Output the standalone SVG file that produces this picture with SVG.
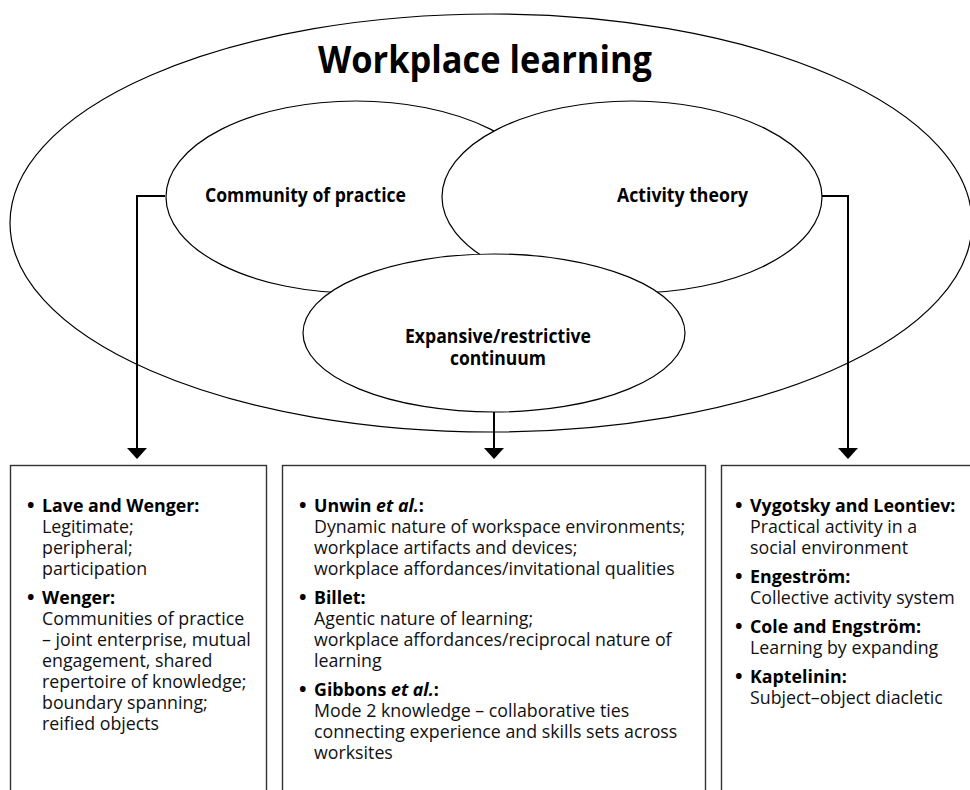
<svg xmlns="http://www.w3.org/2000/svg" width="970" height="790" viewBox="0 0 970 790">
  <style>
    .ell { fill: #fff; stroke: #000; stroke-width: 1.2; }
    .box { fill: #fff; stroke: #333; stroke-width: 1.4; }
    .conn { fill: none; stroke: #000; stroke-width: 2; }
    .title { font-family: "Open Sans", "Liberation Sans", sans-serif; font-weight: 700; font-size: 38px; fill: #000; }
    .lbl { font-family: "Open Sans", "Liberation Sans", sans-serif; font-weight: 700; font-size: 19px; fill: #000; }
    .txt { font-family: "Open Sans", "Liberation Sans", sans-serif; font-size: 17.8px; fill: #111; }
    .b { font-weight: 700; fill: #000; }
    .bi { font-weight: 700; font-style: italic; }
    .dot { font-weight: 700; font-size: 20px; fill: #000; }
  </style>
  <defs>
    <marker id="arrow" markerUnits="userSpaceOnUse" markerWidth="12" markerHeight="20" refX="0" refY="9" orient="auto" viewBox="0 0 10 18">
      <path d="M0,0 L10,9 L0,18 z" fill="#000"/>
    </marker>
  </defs>
  <rect width="970" height="790" fill="#fff"/>

  <g id="workplace-learning">
    <ellipse class="ell" cx="491" cy="223" rx="481" ry="209"/>
    <text class="title" x="318" y="73" textLength="334" lengthAdjust="spacingAndGlyphs">Workplace learning</text>
  </g>

  <g id="community-of-practice">
    <ellipse class="ell" cx="356" cy="197" rx="190" ry="96"/>
    <text class="lbl" x="205" y="202" textLength="201" lengthAdjust="spacingAndGlyphs">Community of practice</text>
  </g>

  <g id="activity-theory">
    <ellipse class="ell" cx="632" cy="197" rx="190" ry="96"/>
    <text class="lbl" x="617" y="202" textLength="131" lengthAdjust="spacingAndGlyphs">Activity theory</text>
  </g>

  <g id="expansive-restrictive">
    <ellipse class="ell" cx="494" cy="333" rx="191" ry="79"/>
    <text class="lbl" x="405" y="343" textLength="186" lengthAdjust="spacingAndGlyphs">Expansive/restrictive</text>
    <text class="lbl" x="450" y="365" textLength="96" lengthAdjust="spacingAndGlyphs">continuum</text>
  </g>

  <g id="connectors">
    <path class="conn" d="M165,196 H137 V448" marker-end="url(#arrow)"/>
    <path class="conn" d="M494,412 V448" marker-end="url(#arrow)"/>
    <path class="conn" d="M822,196 H848 V448" marker-end="url(#arrow)"/>
  </g>

  <g id="box-community">
    <rect class="box" x="10.5" y="465.5" width="256" height="340"/>
    <text class="txt">
      <tspan class="dot" x="27" y="512">•</tspan><tspan class="b" x="42" y="512">Lave and Wenger:</tspan>
      <tspan x="42" y="533">Legitimate;</tspan>
      <tspan x="42" y="554">peripheral;</tspan>
      <tspan x="42" y="575">participation</tspan>
      <tspan class="dot" x="27" y="604">•</tspan><tspan class="b" x="42" y="604">Wenger:</tspan>
      <tspan x="42" y="625">Communities of practice</tspan>
      <tspan x="42" y="646">– joint enterprise, mutual</tspan>
      <tspan x="42" y="667">engagement, shared</tspan>
      <tspan x="42" y="688">repertoire of knowledge;</tspan>
      <tspan x="42" y="709">boundary spanning;</tspan>
      <tspan x="42" y="730">reified objects</tspan>
    </text>
  </g>

  <g id="box-expansive">
    <rect class="box" x="282.5" y="465.5" width="423" height="340"/>
    <text class="txt">
      <tspan class="dot" x="299" y="512">•</tspan><tspan class="b" x="314" y="512">Unwin <tspan class="bi">et al.</tspan>:</tspan>
      <tspan x="314" y="533">Dynamic nature of workspace environments;</tspan>
      <tspan x="314" y="554">workplace artifacts and devices;</tspan>
      <tspan x="314" y="575">workplace affordances/invitational qualities</tspan>
      <tspan class="dot" x="299" y="604">•</tspan><tspan class="b" x="314" y="604">Billet:</tspan>
      <tspan x="314" y="625">Agentic nature of learning;</tspan>
      <tspan x="314" y="646">workplace affordances/reciprocal nature of</tspan>
      <tspan x="314" y="667">learning</tspan>
      <tspan class="dot" x="299" y="696">•</tspan><tspan class="b" x="314" y="696">Gibbons <tspan class="bi">et al.</tspan>:</tspan>
      <tspan x="314" y="717">Mode 2 knowledge – collaborative ties</tspan>
      <tspan x="314" y="738">connecting experience and skills sets across</tspan>
      <tspan x="314" y="759">worksites</tspan>
    </text>
  </g>

  <g id="box-activity">
    <rect class="box" x="721.5" y="465.5" width="260" height="340"/>
    <text class="txt">
      <tspan class="dot" x="735" y="512">•</tspan><tspan class="b" x="750" y="512">Vygotsky and Leontiev:</tspan>
      <tspan x="750" y="533">Practical activity in a</tspan>
      <tspan x="750" y="554">social environment</tspan>
      <tspan class="dot" x="735" y="583">•</tspan><tspan class="b" x="750" y="583">Engeström:</tspan>
      <tspan x="750" y="604">Collective activity system</tspan>
      <tspan class="dot" x="735" y="633">•</tspan><tspan class="b" x="750" y="633">Cole and Engström:</tspan>
      <tspan x="750" y="654">Learning by expanding</tspan>
      <tspan class="dot" x="735" y="683">•</tspan><tspan class="b" x="750" y="683">Kaptelinin:</tspan>
      <tspan x="750" y="704">Subject–object diacletic</tspan>
    </text>
  </g>
</svg>
